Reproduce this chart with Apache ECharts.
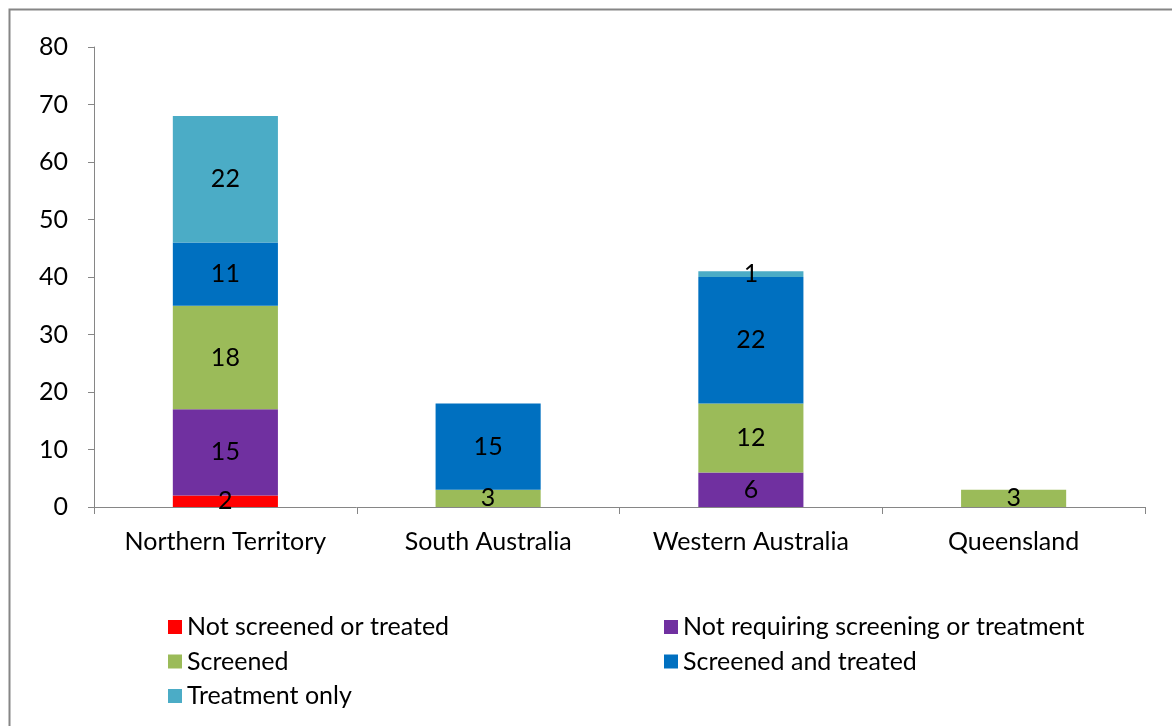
<!DOCTYPE html>
<html>
<head>
<meta charset="utf-8">
<script src="https://cdn.jsdelivr.net/npm/echarts@6/dist/echarts.min.js"></script>
<style>
html,body{margin:0;padding:0;background:#fff;}
#c{width:1172px;height:726px;}
</style>
</head>
<body>
<div id="c"></div>
<script>
const categories = ['Northern Territory', 'South Australia', 'Western Australia', 'Queensland'];
const seriesNames = ['Not screened or treated', 'Not requiring screening or treatment', 'Screened', 'Screened and treated', 'Treatment only'];
const notScreened = [2, null, null, null];
const notRequiring = [15, null, 6, null];
const screened = [18, 3, 12, 3];
const screenedTreated = [11, 15, 22, null];
const treatmentOnly = [22, null, 1, null];
const yTicks = [0, 10, 20, 30, 40, 50, 60, 70, 80];

const colors = ['#FF0000', '#7030A0', '#9BBB59', '#0070C0', '#4BACC6'];
const values = [notScreened, notRequiring, screened, screenedTreated, treatmentOnly];
const FONT = 'Lato';
const FS = 25;

const chart = echarts.init(document.getElementById('c'), null, {renderer: 'canvas'});
chart.setOption({
  animation: false,
  backgroundColor: '#fff',
  textStyle: {fontFamily: FONT},
  graphic: [{
    type: 'rect',
    shape: {x: 9.5, y: 9.5, width: 1200, height: 800},
    style: {fill: null, stroke: '#868686', lineWidth: 2},
    silent: true
  }],
  grid: {left: 94, right: 27, top: 47, bottom: 219, containLabel: false},
  xAxis: {
    type: 'category',
    data: categories,
    axisLine: {lineStyle: {color: '#868686', width: 1}},
    axisTick: {show: true, length: 7, alignWithLabel: false, lineStyle: {color: '#868686'}},
    axisLabel: {color: '#000', fontSize: FS, fontFamily: FONT, margin: 22}
  },
  yAxis: {
    type: 'value',
    min: yTicks[0], max: yTicks[yTicks.length - 1], interval: 10,
    splitLine: {show: false},
    axisLine: {show: true, lineStyle: {color: '#868686', width: 1}},
    axisTick: {show: true, length: 6, lineStyle: {color: '#868686'}},
    axisLabel: {color: '#000', fontSize: FS, fontFamily: FONT, margin: 26}
  },
  legend: [{
    left: 163, top: 609, orient: 'vertical', itemWidth: 14, itemHeight: 14, itemGap: 8.5,
    icon: 'rect',
    textStyle: {fontSize: FS, fontFamily: FONT, color: '#000', lineHeight: 26},
    data: [seriesNames[0], seriesNames[2], seriesNames[4]]
  }, {
    left: 659, top: 609, orient: 'vertical', itemWidth: 14, itemHeight: 14, itemGap: 8.5,
    icon: 'rect',
    textStyle: {fontSize: FS, fontFamily: FONT, color: '#000', lineHeight: 26},
    data: [seriesNames[1], seriesNames[3]]
  }],
  series: seriesNames.map((n, i) => ({
    name: n,
    type: 'bar',
    stack: 'total',
    barWidth: '40%',
    data: values[i],
    itemStyle: {color: colors[i]},
    label: {
      show: true, position: 'inside', color: '#000', fontSize: FS, fontFamily: FONT,
      formatter: p => (p.value == null ? '' : String(p.value))
    }
  }))
});
</script>
</body>
</html>
